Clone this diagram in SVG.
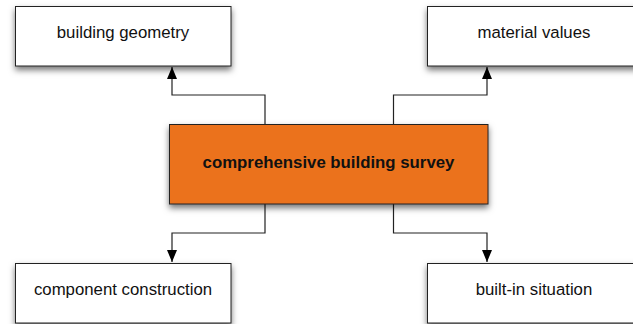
<svg xmlns="http://www.w3.org/2000/svg" width="633" height="324" viewBox="0 0 633 324">
<style>
.box{fill:#fff;stroke:#222;stroke-width:1;filter:url(#sh)}
.main{fill:#eb721e;stroke:#222;stroke-width:1;filter:url(#sh)}
.lbl{font-family:"Liberation Sans",Arial,sans-serif;font-size:16.8px;fill:#111;text-anchor:middle}
.bold{font-weight:bold}
.con{fill:none;stroke:#222;stroke-width:1.2}
</style>
<defs>
<filter id="sh" x="-10%" y="-20%" width="120%" height="150%">
<feDropShadow dx="0" dy="3.5" stdDeviation="3" flood-color="#000" flood-opacity="0.55"/>
</filter>
<marker id="arr" viewBox="0 0 12 10" refX="12" refY="5" markerWidth="12" markerHeight="10" markerUnits="userSpaceOnUse" orient="auto">
<path d="M0,0 L12,5 L0,10 z" fill="#000"/>
</marker>
</defs>
<g id="connectors">
<path class="con" d="M265,124 V95 H172 V67" marker-end="url(#arr)"/>
<path class="con" d="M393.5,124 V95 H487 V67" marker-end="url(#arr)"/>
<path class="con" d="M265,204 V233 H172 V262" marker-end="url(#arr)"/>
<path class="con" d="M393.5,204 V233 H487 V262" marker-end="url(#arr)"/>
</g>
<g id="building-geometry">
<rect class="box" x="15.5" y="6.5" width="215.5" height="59.5"/>
<text class="lbl" x="123" y="38">building geometry</text>
</g>
<g id="material-values">
<rect class="box" x="427.5" y="6.5" width="216" height="59.5"/>
<text class="lbl" x="534" y="38">material values</text>
</g>
<g id="survey">
<rect class="main" x="169.5" y="124.5" width="318.5" height="79.5"/>
<text class="lbl bold" x="328.5" y="168">comprehensive building survey</text>
</g>
<g id="component-construction">
<rect class="box" x="15.5" y="263.5" width="215.5" height="59.5"/>
<text class="lbl" x="123" y="295">component construction</text>
</g>
<g id="built-in-situation">
<rect class="box" x="427.5" y="263.5" width="216" height="59.5"/>
<text class="lbl" x="534" y="295">built-in situation</text>
</g>
</svg>
